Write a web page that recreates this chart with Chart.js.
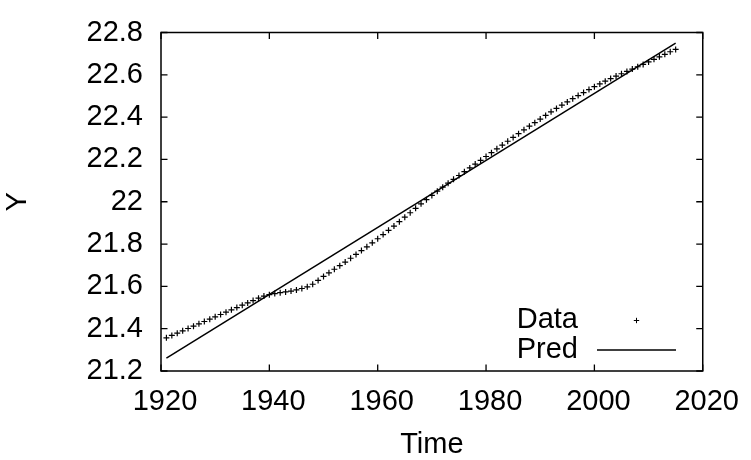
<!DOCTYPE html>
<html><head><meta charset="utf-8">
<script src="https://cdn.jsdelivr.net/npm/chart.js@4"></script>
<style>html,body{margin:0;padding:0;background:#fff}canvas{display:block}</style>
</head><body>
<canvas id="c" width="751" height="460"></canvas>
<script>
const years = [1921,1922,1923,1924,1925,1926,1927,1928,1929,1930,
  1931,1932,1933,1934,1935,1936,1937,1938,1939,1940,
  1941,1942,1943,1944,1945,1946,1947,1948,1949,1950,
  1951,1952,1953,1954,1955,1956,1957,1958,1959,1960,
  1961,1962,1963,1964,1965,1966,1967,1968,1969,1970,
  1971,1972,1973,1974,1975,1976,1977,1978,1979,1980,
  1981,1982,1983,1984,1985,1986,1987,1988,1989,1990,
  1991,1992,1993,1994,1995,1996,1997,1998,1999,2000,
  2001,2002,2003,2004,2005,2006,2007,2008,2009,2010,
  2011,2012,2013,2014,2015];
const dataValues = [21.357,21.368,21.379,21.390,21.401,21.412,21.423,21.434,21.445,21.456,
  21.467,21.478,21.489,21.500,21.511,21.522,21.533,21.544,21.554,21.561,
  21.566,21.570,21.574,21.578,21.583,21.590,21.598,21.610,21.628,21.647,
  21.664,21.681,21.698,21.715,21.733,21.751,21.769,21.787,21.806,21.825,
  21.845,21.865,21.885,21.906,21.927,21.948,21.969,21.990,22.010,22.030,
  22.050,22.069,22.088,22.106,22.124,22.142,22.160,22.178,22.196,22.214,
  22.232,22.250,22.268,22.286,22.304,22.322,22.340,22.357,22.374,22.391,
  22.408,22.425,22.441,22.457,22.472,22.487,22.502,22.516,22.530,22.544,
  22.557,22.570,22.582,22.594,22.605,22.616,22.627,22.638,22.649,22.661,
  22.673,22.685,22.697,22.709,22.720];
const predYears = [1921, 2015];
const predValues = [21.261, 22.750];
const seriesNames = ['Data', 'Pred'];
const xTickValues = [1920, 1940, 1960, 1980, 2000, 2020];
const xTickLabels = ['1920', '1940', '1960', '1980', '2000', '2020'];
const yTickValues = [21.2, 21.4, 21.6, 21.8, 22, 22.2, 22.4, 22.6, 22.8];
const yTickLabels = ['21.2', '21.4', '21.6', '21.8', '22', '22.2', '22.4', '22.6', '22.8'];
const xTitle = 'Time';
const yTitle = 'Y';

const FONT = 'Liberation Sans, Arial, Helvetica, sans-serif';
const FS = 29;

const framePlugin = {
  id: 'frame',
  beforeDatasetsDraw(chart) {
    const {ctx, chartArea: a, scales} = chart;
    ctx.save();
    ctx.strokeStyle = '#000';
    ctx.lineWidth = 1.3;
    const T = 6.5;
    ctx.beginPath();
    xTickValues.forEach(v => {
      const px = scales.x.getPixelForValue(v);
      ctx.moveTo(px, a.bottom); ctx.lineTo(px, a.bottom - T);
      ctx.moveTo(px, a.top); ctx.lineTo(px, a.top + T);
    });
    yTickValues.forEach(v => {
      const py = scales.y.getPixelForValue(v);
      ctx.moveTo(a.left, py); ctx.lineTo(a.left + T, py);
      ctx.moveTo(a.right, py); ctx.lineTo(a.right - T, py);
    });
    ctx.stroke();
    ctx.lineWidth = 1.5;
    ctx.strokeRect(a.left, a.top, a.right - a.left, a.bottom - a.top);
    ctx.restore();
  },
  afterDraw(chart) {
    const {ctx} = chart;
    const ds = chart.data.datasets;
    ctx.save();
    ctx.fillStyle = '#000';
    ctx.strokeStyle = '#000';
    ctx.font = FS + 'px ' + FONT;
    ctx.textAlign = 'right';
    ctx.textBaseline = 'middle';
    const textRight = 578;
    const rows = [320, 350];
    ctx.fillText(ds[0].label, textRight, rows[0]);
    ctx.fillText(ds[1].label, textRight, rows[1]);
    ctx.lineWidth = 1;
    const cx = 636.5, cy = rows[0] + 0.5, r = 2.7;
    ctx.beginPath();
    ctx.moveTo(cx - r, cy); ctx.lineTo(cx + r, cy);
    ctx.moveTo(cx, cy - r); ctx.lineTo(cx, cy + r);
    ctx.stroke();
    ctx.lineWidth = ds[1].borderWidth;
    ctx.beginPath();
    ctx.moveTo(597, rows[1]); ctx.lineTo(676, rows[1]);
    ctx.stroke();
    ctx.restore();
  }
};

new Chart(document.getElementById('c'), {
  type: 'scatter',
  data: {
    datasets: [
      {
        label: seriesNames[0],
        data: years.map((y, i) => ({x: y, y: dataValues[i]})),
        pointStyle: 'cross',
        pointRadius: 3,
        pointBorderWidth: 1.2,
        pointBorderColor: '#000',
        pointBackgroundColor: '#000',
        showLine: false
      },
      {
        label: seriesNames[1],
        data: predYears.map((y, i) => ({x: y, y: predValues[i]})),
        showLine: true,
        borderColor: '#000',
        borderWidth: 1.5,
        pointRadius: 0,
        fill: false
      }
    ]
  },
  options: {
    responsive: false,
    animation: false,
    devicePixelRatio: 1,
    layout: {padding: {top: 19, right: 40, left: 0, bottom: 0}},
    plugins: {legend: {display: false}, tooltip: {enabled: false}},
    scales: {
      x: {
        type: 'linear',
        min: 1920, max: 2020,
        grid: {display: false, drawTicks: false, tickLength: 0},
        border: {display: false},
        afterBuildTicks: s => { s.ticks = xTickValues.map(v => ({value: v})); },
        afterFit: s => { s.height = 89; },
        ticks: {
          color: '#000', padding: 16, maxRotation: 0, autoSkip: false, labelOffset: 4,
          font: {family: FONT, size: FS, lineHeight: 1},
          callback: (v, i) => xTickLabels[i]
        },
        title: {display: true, text: xTitle, color: '#000', padding: {top: 0, bottom: 0.5},
          font: {family: FONT, size: FS, lineHeight: 1}}
      },
      y: {
        type: 'linear',
        min: 21.2, max: 22.8,
        grid: {display: false, drawTicks: false, tickLength: 0},
        border: {display: false},
        afterBuildTicks: s => { s.ticks = yTickValues.map(v => ({value: v})); },
        afterFit: s => { s.width = 161; },
        ticks: {
          color: '#000', padding: 18, autoSkip: false,
          font: {family: FONT, size: FS, lineHeight: 1},
          callback: (v, i) => yTickLabels[i]
        },
        title: {display: true, text: yTitle, color: '#000', padding: {top: 3.5, bottom: 0},
          font: {family: FONT, size: FS, lineHeight: 1}}
      }
    }
  },
  plugins: [framePlugin]
});
</script>
</body></html>
